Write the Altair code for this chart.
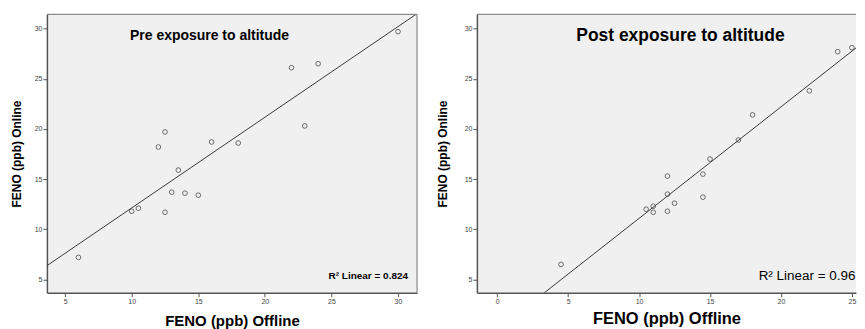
import altair as alt
import pandas as pd

# ---- data ----
pre_offline = [30, 22, 24, 23, 12.5, 12, 16, 18, 13.5, 13, 14, 15, 10, 10.5, 12.5, 6]
pre_online = [29.7, 26.1, 26.5, 20.3, 19.7, 18.2, 18.7, 18.6, 15.9, 13.7, 13.6, 13.4, 11.8, 12.1, 11.7, 7.2]

post_offline = [24, 25, 22, 18, 17, 15, 12, 14.5, 12, 14.5, 12.5, 11, 10.5, 11, 12, 4.5]
post_online = [27.7, 28.1, 23.8, 21.4, 18.9, 17.0, 15.3, 15.5, 13.5, 13.2, 12.6, 12.3, 12.0, 11.7, 11.8, 6.5]

pre_xticks = [5, 10, 15, 20, 25, 30]
post_xticks = [0, 5, 10, 15, 20, 25]
yticks = [5, 10, 15, 20, 25, 30]

pre_title = "Pre exposure to altitude"
post_title = "Post exposure to altitude"
pre_r2 = "R\u00b2 Linear = 0.824"
post_r2 = "R\u00b2 Linear = 0.96"

FONT = "Liberation Sans"
Y_DOMAIN = [3.68, 31.42]


def panel(xs, ys, xdom, width, height, xticks, title, title_x, title_size,
          r2_text, r2_x, r2_size, r2_weight, xtitle_size, xtitle_pad, ytitle_pad,
          right_border):
    df = pd.DataFrame({"offline": xs, "online": ys})
    one = pd.DataFrame({"k": [0]})
    xenc = alt.X(
        "offline:Q",
        scale=alt.Scale(domain=xdom, nice=False, zero=False),
        axis=alt.Axis(values=xticks, title="FENO (ppb) Offline", titleFontSize=xtitle_size,
                      titlePadding=xtitle_pad),
    )
    yenc = alt.Y(
        "online:Q",
        scale=alt.Scale(domain=Y_DOMAIN, nice=False, zero=False),
        axis=alt.Axis(values=yticks, title="FENO (ppb) Online", titleFontSize=12,
                      titlePadding=ytitle_pad),
    )
    base = alt.Chart(df)
    fit = base.transform_regression("offline", "online", extent=xdom).mark_line(
        clip=True, color="#3a3a3a", strokeWidth=1
    ).encode(x=xenc, y=yenc)
    pts = base.mark_point(shape="circle", filled=False, size=22, color="#333333",
                          strokeWidth=1).encode(x=xenc, y=yenc)
    top = alt.Chart(one).mark_rule(color="#8a8a8a", strokeWidth=1.2).encode(
        x=alt.value(0), x2=alt.value(width), y=alt.value(0))
    layers = [fit, pts, top]
    if right_border:
        right = alt.Chart(one).mark_rule(color="#8a8a8a", strokeWidth=1.2).encode(
            x=alt.value(width), y=alt.value(0), y2=alt.value(height))
        layers.append(right)
    ttl = alt.Chart(one).mark_text(font=FONT, fontSize=title_size, fontWeight="bold",
                                   color="black", align="center", baseline="middle").encode(
        x=alt.value(title_x), y=alt.value(22), text=alt.value(title))
    r2 = alt.Chart(one).mark_text(font=FONT, fontSize=r2_size, fontWeight=r2_weight,
                                  color="black", align="right", baseline="middle").encode(
        x=alt.value(r2_x), y=alt.value(262), text=alt.value(r2_text))
    layers += [ttl, r2]
    return alt.layer(*layers).properties(width=width, height=height)


W_LEFT, W_RIGHT, H = 371, 380, 279
left = panel(pre_offline, pre_online, [3.63, 31.43], W_LEFT, H, pre_xticks, pre_title, 163, 14,
             pre_r2, 362, 10, "bold", 15, 9, 11, True)
right = panel(post_offline, post_online, [-1.43, 25.29], W_RIGHT, H, post_xticks, post_title, 204, 17.5,
              post_r2, 379.5, 13.5, "normal", 16.5, 6, 15, False)

chart = alt.hconcat(left, right, spacing=18).properties(
    padding={"left": 2, "top": 5, "right": 0, "bottom": 0}
).configure_view(
    fill="#f0f0f0", stroke=None
).configure_axis(
    grid=False,
    domainColor="#555555",
    domainWidth=1.5,
    tickColor="#555555",
    tickSize=4,
    tickWidth=1,
    labelFont=FONT,
    labelFontSize=7,
    labelColor="#444444",
    labelPadding=1,
    titleFont=FONT,
    titleFontWeight="bold",
    titleColor="black",
)

chart.save("out.html", embed_options={"renderer": "svg", "actions": False})
